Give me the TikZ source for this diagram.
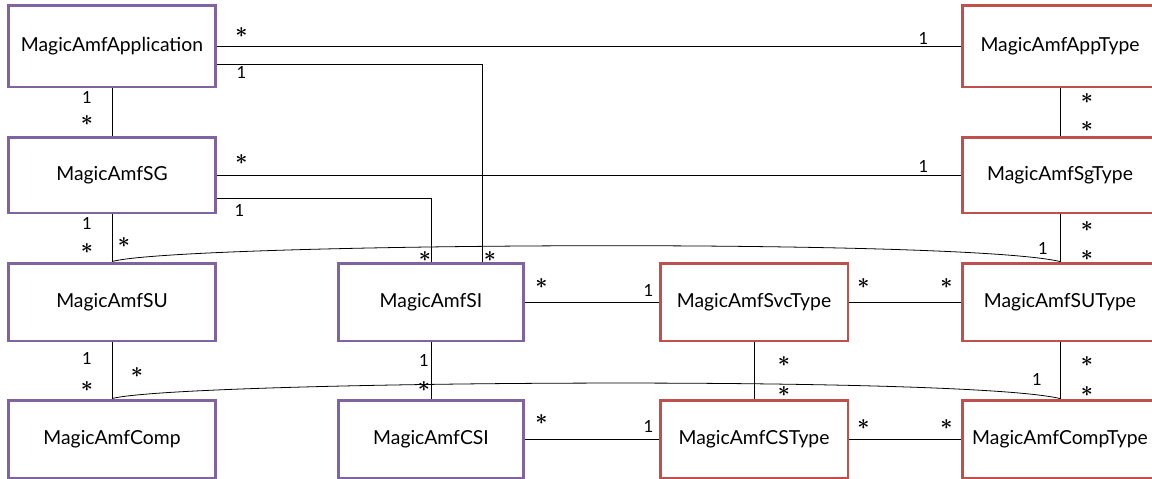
\documentclass[tikz,border=0pt]{standalone}
\usepackage{fontspec}
\setmainfont{Lato}
\usetikzlibrary{positioning,calc}
\definecolor{amfpurple}{HTML}{8064A2}
\definecolor{amfred}{HTML}{C0504D}

\begin{document}
\begin{tikzpicture}[
    x=0.02cm, y=-0.02cm,
    font=\fontsize{11}{13}\selectfont,
    cls/.style={draw=amfpurple, line width=1.7pt, fill=white,
                minimum width=4.16cm, minimum height=1.56cm, inner sep=0pt},
    typ/.style={cls, draw=amfred, minimum width=3.92cm},
    assoc/.style={line width=0.45pt},
    mult/.style={font=\fontsize{9.5}{11}\selectfont, inner sep=0pt},
    many/.style={font=\fontsize{12}{12}\selectfont\boldmath, inner sep=0pt}
  ]
  \useasboundingbox (0,0) rectangle (1152,478);
  \clip (0,0) rectangle (1152,478);

  % --- instance classes (purple) ---
  \node[cls, minimum height=1.64cm] (app)  at (112,46)  {MagicAmfApplication};
  \node[cls, minimum height=1.52cm] (sg)   at (112,175) {MagicAmfSG};
  \node[cls]                        (su)   at (112,302) {MagicAmfSU};
  \node[cls]                        (comp) at (112,439) {MagicAmfComp};
  \node[cls, minimum width=3.72cm]  (si)   at (431,302) {MagicAmfSI};
  \node[cls, minimum width=3.72cm]  (csi)  at (431,439) {MagicAmfCSI};

  % --- type classes (red) ---
  \node[typ, minimum width=3.76cm]  (svctype)  at (754,302)  {MagicAmfSvcType};
  \node[typ, minimum width=3.76cm]  (cstype)   at (754,439)  {MagicAmfCSType};
  \node[typ, minimum height=1.64cm] (apptype)  at (1060,46)  {MagicAmfAppType};
  \node[typ, minimum height=1.52cm] (sgtype)   at (1060,175) {MagicAmfSgType};
  \node[typ]                        (sutype)   at (1060,302) {MagicAmfSUType};
  \node[typ]                        (comptype) at (1060,439) {MagicAmfCompType};

  % application associations
  \draw[assoc] (app.east) -- (apptype.west);
  \node[many] at ($(app.east)+(24,-13)$) {$*$};
  \node[mult] at ($(apptype.west)+(-37,-8)$) {1};
  \draw[assoc] ($(app.east)+(0,18)$) -| ($(si.north)+(51,0)$);
  \node[mult] at ($(app.east)+(24,27)$) {1};
  \node[many] at ($(si.north)+(59,-5)$) {$*$};
  \draw[assoc] (app) -- (sg);
  \node[mult] at ($(app.south)+(-25,9)$) {1};
  \node[many] at ($(sg.north)+(-25,-15)$) {$*$};

  % service group associations
  \draw[assoc] (sg.east) -- (sgtype.west);
  \node[many] at ($(sg.east)+(24,-15)$) {$*$};
  \node[mult] at ($(sgtype.west)+(-37,-9)$) {1};
  \draw[assoc] ($(sg.east)+(0,23)$) -| (si.north);
  \node[mult] at ($(sg.east)+(22,35)$) {1};
  \node[many] at ($(si.north)+(-6,-5)$) {$*$};
  \draw[assoc] (sg) -- (su);
  \node[mult] at ($(sg.south)+(-25,9)$) {1};
  \node[many] at ($(su.north)+(-25,-13)$) {$*$};

  % type hierarchy (right column)
  \draw[assoc] (apptype) -- (sgtype);
  \node[many] at ($(apptype.south)+(27,10)$) {$*$};
  \node[many] at ($(sgtype.north)+(27,-9)$) {$*$};
  \draw[assoc] (sgtype) -- (sutype);
  \node[many] at ($(sgtype.south)+(27,12)$) {$*$};
  \node[many] at ($(sutype.north)+(27,-6)$) {$*$};
  \draw[assoc] (sutype) -- (comptype);
  \node[many] at ($(sutype.south)+(27,19)$) {$*$};
  \node[many] at ($(comptype.north)+(27,-7)$) {$*$};

  % SU / component to their types
  \draw[assoc] (su.north) .. controls (180,243) and (960,238) .. (sutype.north);
  \node[many] at ($(su.north)+(12,-19)$) {$*$};
  \node[mult] at ($(sutype.north)+(-17,-13)$) {1};
  \draw[assoc] (su) -- (comp);
  \node[mult] at ($(su.south)+(-25,16)$) {1};
  \node[many] at ($(comp.north)+(-25,-12)$) {$*$};
  \draw[assoc] (comp.north) .. controls (180,381) and (960,375) .. (comptype.north);
  \node[many] at ($(comp.north)+(25,-26)$) {$*$};
  \node[mult] at ($(comptype.north)+(-23,-19)$) {1};

  % SI / CSI side
  \draw[assoc] (si.east) -- (svctype.west);
  \node[many] at ($(si.east)+(16,-18)$) {$*$};
  \node[mult] at ($(svctype.west)+(-10,-12)$) {1};
  \draw[assoc] (svctype.east) -- (sutype.west);
  \node[many] at ($(svctype.east)+(14,-18)$) {$*$};
  \node[many] at ($(sutype.west)+(-14,-18)$) {$*$};
  \draw[assoc] (si) -- (csi);
  \node[mult] at ($(si.south)+(-7,18)$) {1};
  \node[many] at ($(csi.north)+(-7,-12)$) {$*$};
  \draw[assoc] (svctype) -- (cstype);
  \node[many] at ($(svctype.south)+(30,19)$) {$*$};
  \node[many] at ($(cstype.north)+(30,-7)$) {$*$};
  \draw[assoc] (csi.east) -- (cstype.west);
  \node[many] at ($(csi.east)+(16,-19)$) {$*$};
  \node[mult] at ($(cstype.west)+(-10,-13)$) {1};
  \draw[assoc] (cstype.east) -- (comptype.west);
  \node[many] at ($(cstype.east)+(14,-14)$) {$*$};
  \node[many] at ($(comptype.west)+(-14,-14)$) {$*$};
\end{tikzpicture}
\end{document}
